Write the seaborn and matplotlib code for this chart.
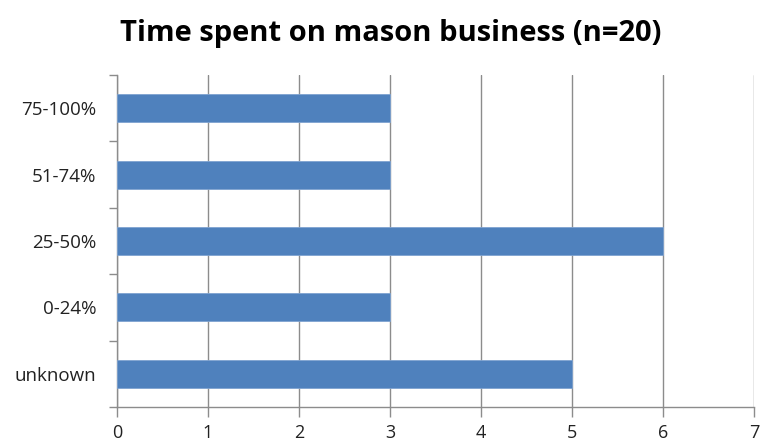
import matplotlib
matplotlib.use("Agg")
import matplotlib.pyplot as plt
import seaborn as sns
import pandas as pd
import numpy as np

categories = ["75-100%", "51-74%", "25-50%", "0-24%", "unknown"]
counts = [3, 3, 6, 3, 5]
x_ticks = [0, 1, 2, 3, 4, 5, 6, 7]

df = pd.DataFrame({"category": categories, "count": counts})

sns.set_style("white")
plt.rcParams["font.family"] = ["Open Sans", "DejaVu Sans"]

fig = plt.figure(figsize=(7.63, 4.43), dpi=100)
ax = fig.add_axes([117 / 763, 1 - 407 / 443, (754 - 117) / 763, (407 - 75) / 443])

sns.barplot(data=df, x="count", y="category", order=categories, orient="h",
            color="#4F81BD", width=0.42, edgecolor="#7FA3D0", linewidth=0.6,
            saturation=1, ax=ax, zorder=3)

grid_col = "#8C8C8C"
ax.set_xlim(0, 7)
ax.set_ylim(len(categories) - 0.5, -0.5)
ax.set_xticks(x_ticks)
ax.set_xticklabels([str(t) for t in x_ticks])
ax.xaxis.grid(True, color=grid_col, linewidth=1.0, zorder=0)
ax.set_axisbelow(True)

# category boundary ticks on the value-less axis
ax.set_yticks(np.arange(-0.5, len(categories), 1.0), minor=True)
ax.tick_params(axis="y", which="major", length=0, pad=15, labelsize=13.5, labelcolor="#222222")
ax.tick_params(axis="y", which="minor", length=6, width=1, color=grid_col, left=True)
ax.tick_params(axis="x", which="major", length=7, width=1, color=grid_col, bottom=True,
               pad=5, labelsize=13, labelcolor="#222222")

for side in ["top", "right"]:
    ax.spines[side].set_visible(False)
for side in ["left", "bottom"]:
    ax.spines[side].set_color(grid_col)
    ax.spines[side].set_linewidth(1.0)

ax.set_xlabel("")
ax.set_ylabel("")

fig.text(391 / 763, 1 - 33 / 443, "Time spent on mason business (n=20)", ha="center", va="center",
         fontsize=21, fontweight="bold", color="#000000")

fig.savefig("out.png", dpi=100)
